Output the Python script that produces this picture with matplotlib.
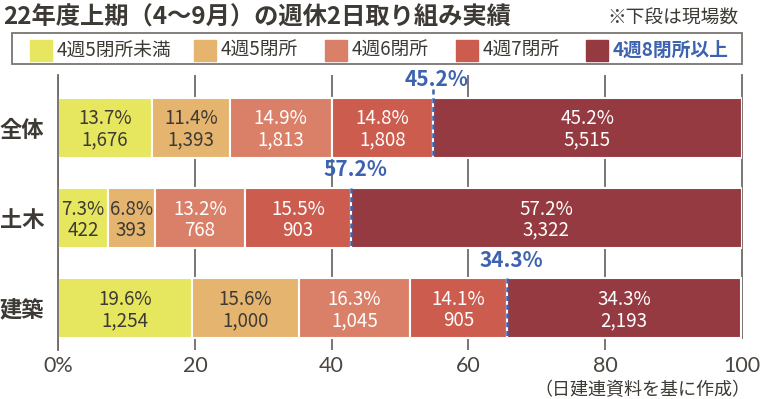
import matplotlib
matplotlib.use("Agg")
import matplotlib.pyplot as plt
from matplotlib.patches import Rectangle

plt.rcParams['font.family'] = ['Noto Sans CJK JP', 'DejaVu Sans']

# データ
categories = ['全体', '土木', '建築']
series_names = ['4週5閉所未満', '4週5閉所', '4週6閉所', '4週7閉所', '4週8閉所以上']
pct = [
    [13.7, 11.4, 14.9, 14.8, 45.2],
    [7.3, 6.8, 13.2, 15.5, 57.2],
    [19.6, 15.6, 16.3, 14.1, 34.3],
]
counts = [
    [1676, 1393, 1813, 1808, 5515],
    [422, 393, 768, 903, 3322],
    [1254, 1000, 1045, 905, 2193],
]
highlight = [45.2, 57.2, 34.3]
xticks = [0, 20, 40, 60, 80, 100]
xticklabels = ['0%', '20', '40', '60', '80', '100']

colors = ['#e7e65f', '#e5b46e', '#da8068', '#cc5c4e', '#963a41']
text_colors = ['#3d3a35', '#3d3a35', 'white', 'white', 'white']
dark = '#3d3a35'
blue = '#3d63b0'
grid_c = '#6e6a66'

fig = plt.figure(figsize=(7.6, 3.99), dpi=100)
ax = fig.add_axes([0.0767, 0.1228, 0.8993, 0.689])

bar_h = 0.664
ys = list(range(len(categories)))

# グリッド線（棒の後ろ）
for x in xticks[:-1]:
    ax.axvline(x, color=grid_c, lw=1.3, zorder=0)
ax.plot([100, 100], [-0.581, 2 + bar_h / 2], color=grid_c, lw=1.3, zorder=0, clip_on=False)

for i, y in enumerate(ys):
    left = 0
    for j in range(len(series_names)):
        w = pct[i][j]
        ax.barh(y, w, left=left, height=bar_h, color=colors[j],
                edgecolor='white', linewidth=1.5, zorder=2)
        ax.text(left + w / 2, y + 0.02, f'{w:.1f}%\n{counts[i][j]:,}',
                ha='center', va='center', fontsize=13.5, color=text_colors[j],
                linespacing=1.0, zorder=3)
        left += w
    # 4週8閉所以上の境界
    b = 100 - highlight[i]
    top = y - bar_h / 2 - (0.09 if i == 0 else 0.0)
    ax.plot([b, b], [top, y + bar_h / 2], color=blue, lw=1.8,
            linestyle=(0, (2, 1.5)), zorder=4)
    ax.text(b + 0.6, y - bar_h / 2 - 0.2, f'{highlight[i]}%', ha='center',
            va='center', fontsize=15, fontweight='bold', color=blue, zorder=4)

ax.set_xlim(0, 100)
ax.set_ylim(2.461, -0.581)
for s in ['top', 'right', 'bottom']:
    ax.spines[s].set_visible(False)
ax.spines['left'].set_color(grid_c)
ax.spines['left'].set_linewidth(1.3)
ax.set_yticks(ys)
ax.set_yticklabels(categories, fontsize=16, fontweight='bold', color=dark)
ax.tick_params(axis='y', length=0, pad=10)
ax.set_xticks(xticks)
ax.set_xticklabels(xticklabels, fontsize=15.5, color='#4a4540', family=['Lato', 'DejaVu Sans'])
ax.tick_params(axis='x', length=0, pad=4)

# タイトルと注記
fig.text(0.004, 0.955, '22年度上期（4〜9月）の週休2日取り組み実績', fontsize=17.5,
         fontweight='bold', color=dark, ha='left', va='center')
fig.text(0.972, 0.955, '※下段は現場数', fontsize=13.5, color=dark, ha='right', va='center')
fig.text(0.988, 0.022, '（日建連資料を基に作成）', fontsize=13, color=dark, ha='right', va='center')

# 凡例
fig.patches.append(Rectangle((12 / 760, 1 - 64 / 399), 730 / 760, 31 / 399,
                             transform=fig.transFigure, fill=False,
                             edgecolor='#7a7570', lw=1.3))
leg_x = [30, 194, 325, 456, 586]
for j, name in enumerate(series_names):
    fig.patches.append(Rectangle((leg_x[j] / 760, 1 - 61 / 399), 22 / 760, 21 / 399,
                                 transform=fig.transFigure, color=colors[j]))
    last = j == len(series_names) - 1
    fig.text((leg_x[j] + 27) / 760, 1 - 50 / 399, name, fontsize=13.5,
             color=blue if last else dark, fontweight='bold' if last else 'normal',
             ha='left', va='center')

fig.savefig('out.png', dpi=100)
